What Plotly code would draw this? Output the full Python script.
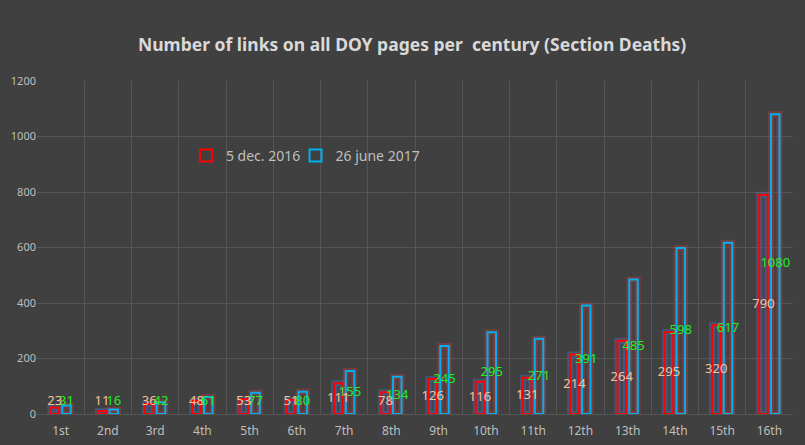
import plotly.graph_objects as go

categories = ["1st", "2nd", "3rd", "4th", "5th", "6th", "7th", "8th",
              "9th", "10th", "11th", "12th", "13th", "14th", "15th", "16th"]
dec2016 = [23, 11, 36, 48, 53, 51, 111, 78, 126, 116, 131, 214, 264, 295, 320, 790]
jun2017 = [31, 16, 42, 61, 77, 80, 155, 134, 245, 295, 271, 391, 485, 598, 617, 1080]
series_names = ["5 dec. 2016", "26 june 2017"]
title_text = "Number of links on all DOY pages per  century (Section Deaths)"

BG = "#404040"
RED = "#ff0000"
BLUE = "#00b0f0"
font_family = "Noto Sans, Open Sans, sans-serif"

OFF_A, OFF_B, W = -0.215, 0.035, 0.18
LABEL_MIN = 43  # labels of short bars sit just above the axis

xpos = list(range(len(categories)))

fig = go.Figure()

# glow layers
fig.add_trace(go.Bar(x=xpos, y=dec2016, offset=OFF_A, width=W,
                     marker=dict(color="rgba(60,90,140,0.25)",
                                 line=dict(color="rgba(70,120,190,0.4)", width=6)),
                     showlegend=False, hoverinfo="skip"))
fig.add_trace(go.Bar(x=xpos, y=jun2017, offset=OFF_B, width=W,
                     marker=dict(color="rgba(120,60,60,0.15)",
                                 line=dict(color="rgba(190,60,60,0.4)", width=6)),
                     showlegend=False, hoverinfo="skip"))

fig.add_trace(go.Bar(x=xpos, y=dec2016, name=series_names[0], offset=OFF_A, width=W,
                     legend="legend",
                     marker=dict(color="rgba(64,64,64,0)", line=dict(color=RED, width=2))))
fig.add_trace(go.Bar(x=xpos, y=jun2017, name=series_names[1], offset=OFF_B, width=W,
                     legend="legend2",
                     marker=dict(color="rgba(64,64,64,0)", line=dict(color=BLUE, width=2))))

# data labels (centered on each bar)
for vals, off, col in [(dec2016, OFF_A, "#f6c29c"), (jun2017, OFF_B, "#22ee22")]:
    fig.add_trace(go.Scatter(
        x=[i + off + W / 2 for i in xpos],
        y=[max(v / 2, LABEL_MIN) for v in vals],
        text=[str(v) for v in vals], mode="text", textposition="middle center",
        textfont=dict(color=col, size=13, family=font_family),
        showlegend=False, hoverinfo="skip", cliponaxis=False))

legend_common = dict(orientation="h", y=0.775, xanchor="left", yanchor="middle",
                     bgcolor="rgba(0,0,0,0)",
                     font=dict(color="#bfbfbf", size=14, family=font_family))

fig.update_layout(
    width=805, height=445,
    barmode="overlay",
    paper_bgcolor=BG, plot_bgcolor=BG,
    margin=dict(l=37, r=12, t=81, b=31),
    title=dict(text="<b>" + title_text + "</b>", x=0.512, xanchor="center",
               y=0.9, yanchor="middle",
               font=dict(color="#d9d9d9", size=17.5, family=font_family)),
    legend=dict(x=0.197, **legend_common),
    legend2=dict(x=0.342, **legend_common),
    showlegend=True,
)
fig.update_xaxes(range=[-0.5, len(categories) - 0.5], tickvals=xpos, ticktext=categories,
                 showgrid=False, zeroline=False, ticks="", showline=False,
                 ticklabelstandoff=8, automargin=False,
                 minor=dict(tick0=0.5, dtick=1, showgrid=True, gridcolor="#555555",
                            gridwidth=1, ticks=""),
                 tickfont=dict(color="#bfbfbf", size=12, family=font_family))
fig.update_yaxes(range=[0, 1200], dtick=200, tickformat="d", showgrid=True,
                 gridcolor="#555555", gridwidth=1, zeroline=True, automargin=False,
                 zerolinecolor="#555555", zerolinewidth=1,
                 tickfont=dict(color="#bfbfbf", size=11, family=font_family))

fig.write_html("out.html", config={"displayModeBar": False},
               post_script="document.body.style.margin='0';")
